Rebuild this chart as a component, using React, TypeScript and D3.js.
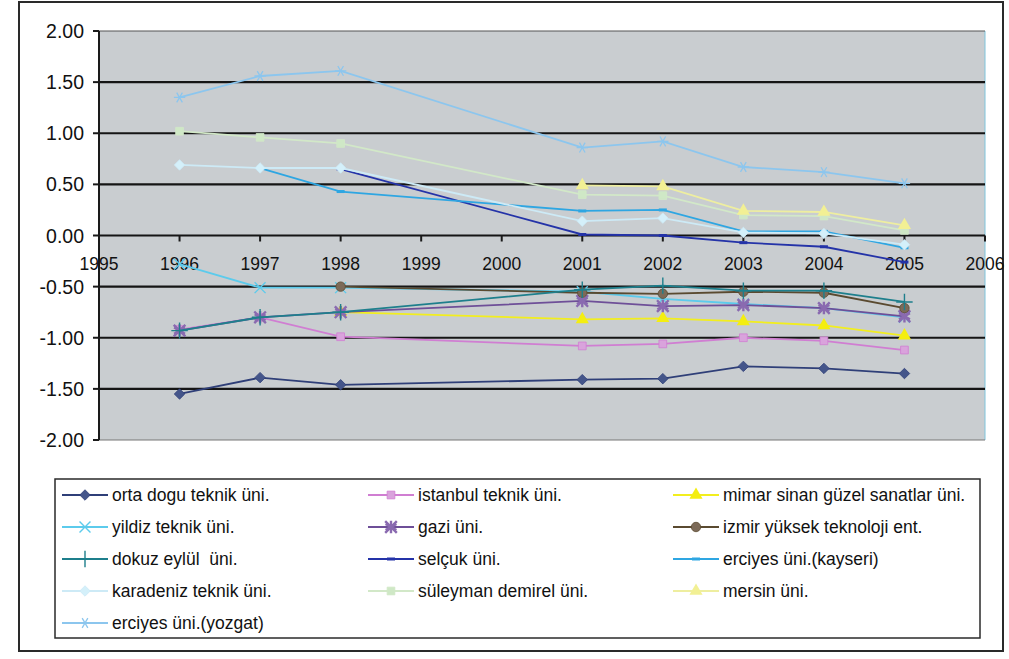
import { useRef, useEffect } from 'react';
import * as d3 from 'd3';

const years = [1996, 1997, 1998, 1999, 2000, 2001, 2002, 2003, 2004, 2005];
const xTicks = [1995, 1996, 1997, 1998, 1999, 2000, 2001, 2002, 2003, 2004, 2005, 2006];
const yTicks = [2, 1.5, 1, 0.5, 0, -0.5, -1, -1.5, -2];

const seriesNames = [
  'orta dogu teknik üni.',
  'istanbul teknik üni.',
  'mimar sinan güzel sanatlar üni.',
  'yildiz teknik üni.',
  'gazi üni.',
  'izmir yüksek teknoloji ent.',
  'dokuz eylül  üni.',
  'selçuk üni.',
  'erciyes üni.(kayseri)',
  'karadeniz teknik üni.',
  'süleyman demirel üni.',
  'mersin üni.',
  'erciyes üni.(yozgat)',
];

const ortaDogu = [-1.55, -1.39, -1.46, null, null, -1.41, -1.4, -1.28, -1.3, -1.35];
const istanbul = [-0.92, -0.8, -0.99, null, null, -1.08, -1.06, -1.0, -1.03, -1.12];
const mimarSinan = [null, null, -0.75, null, null, -0.82, -0.81, -0.84, -0.88, -0.98];
const yildiz = [-0.28, -0.51, -0.51, null, null, -0.55, -0.62, -0.67, -0.71, -0.8];
const gazi = [-0.93, -0.8, -0.75, null, null, -0.64, -0.69, -0.68, -0.71, -0.79];
const izmir = [null, null, -0.5, null, null, -0.56, -0.57, -0.55, -0.56, -0.71];
const dokuzEylul = [-0.93, -0.8, -0.75, null, null, -0.53, -0.49, -0.54, -0.54, -0.65];
const selcuk = [null, null, 0.65, null, null, 0.01, 0.0, -0.07, -0.11, -0.26];
const erciyesKayseri = [null, 0.66, 0.43, null, null, 0.24, 0.25, 0.04, 0.04, -0.12];
const karadeniz = [0.69, 0.66, 0.66, null, null, 0.14, 0.17, 0.03, 0.02, -0.09];
const suleyman = [1.02, 0.96, 0.9, null, null, 0.4, 0.39, 0.2, 0.19, 0.05];
const mersin = [null, null, null, null, null, 0.49, 0.48, 0.24, 0.23, 0.1];
const erciyesYozgat = [1.35, 1.56, 1.61, null, null, 0.86, 0.92, 0.67, 0.62, 0.51];

const seriesValues = [
  ortaDogu, istanbul, mimarSinan, yildiz, gazi, izmir, dokuzEylul,
  selcuk, erciyesKayseri, karadeniz, suleyman, mersin, erciyesYozgat,
];

// line colour, marker fill, marker kind
const styles = [
  { line: '#2f3f78', fill: '#44558a', marker: 'diamond' },
  { line: '#d07ed2', fill: '#d9a3dc', marker: 'square' },
  { line: '#f2ee1e', fill: '#f4ee10', marker: 'triangle' },
  { line: '#5ccbec', fill: '#5ccbec', marker: 'x' },
  { line: '#6e4f98', fill: '#8a6ab0', marker: 'star' },
  { line: '#5a4a30', fill: '#7c6a58', marker: 'circle' },
  { line: '#1e7f8c', fill: '#1e7f8c', marker: 'plus' },
  { line: '#2433a8', fill: '#2433a8', marker: 'dash' },
  { line: '#2ea6e2', fill: '#2ea6e2', marker: 'dash' },
  { line: '#cdeaf6', fill: '#d4f0fa', marker: 'diamond' },
  { line: '#d2e8c8', fill: '#cfe8c6', marker: 'square' },
  { line: '#eeeea0', fill: '#f2f094', marker: 'triangle' },
  { line: '#8cc6ee', fill: '#8cc6ee', marker: 'xstar' },
];

function drawMarker(g: any, kind: string, x: number, y: number, line: string, fill: string) {
  const sym = (type: any, size: number) => d3.symbol().type(type).size(size)();
  if (kind === 'diamond') {
    g.append('path').attr('d', sym(d3.symbolDiamond2, 70)).attr('transform', `translate(${x},${y})`)
      .attr('fill', fill).attr('stroke', line).attr('stroke-width', 0.8);
  } else if (kind === 'square') {
    g.append('path').attr('d', sym(d3.symbolSquare, 60)).attr('transform', `translate(${x},${y})`)
      .attr('fill', fill).attr('stroke', line).attr('stroke-width', 0.8);
  } else if (kind === 'triangle') {
    g.append('path').attr('d', sym(d3.symbolTriangle, 75)).attr('transform', `translate(${x},${y})`)
      .attr('fill', fill).attr('stroke', 'none');
  } else if (kind === 'circle') {
    g.append('path').attr('d', sym(d3.symbolCircle, 70)).attr('transform', `translate(${x},${y})`)
      .attr('fill', fill).attr('stroke', line).attr('stroke-width', 0.8);
  } else if (kind === 'x') {
    g.append('path').attr('d', sym(d3.symbolTimes, 80)).attr('transform', `translate(${x},${y})`)
      .attr('fill', 'none').attr('stroke', line).attr('stroke-width', 1.4);
  } else if (kind === 'xstar') {
    g.append('path').attr('d', sym(d3.symbolAsterisk, 90)).attr('transform', `translate(${x},${y}) rotate(30)`)
      .attr('fill', 'none').attr('stroke', line).attr('stroke-width', 1.3);
  } else if (kind === 'star') {
    g.append('path').attr('d', sym(d3.symbolAsterisk, 110)).attr('transform', `translate(${x},${y})`)
      .attr('fill', 'none').attr('stroke', fill).attr('stroke-width', 2.4);
    g.append('path').attr('d', sym(d3.symbolTimes, 90)).attr('transform', `translate(${x},${y})`)
      .attr('fill', 'none').attr('stroke', fill).attr('stroke-width', 2.4);
  } else if (kind === 'plus') {
    g.append('path').attr('d', sym(d3.symbolPlus, 90)).attr('transform', `translate(${x},${y})`)
      .attr('fill', 'none').attr('stroke', line).attr('stroke-width', 1.4);
  } else if (kind === 'dash') {
    g.append('line').attr('x1', x - 4).attr('x2', x + 4).attr('y1', y).attr('y2', y)
      .attr('stroke', fill).attr('stroke-width', 3);
  }
}

export default function App() {
  const svgRef = useRef<SVGSVGElement>(null);
  const width = 1009;
  const height = 659;

  useEffect(() => {
    const svg = d3.select(svgRef.current);
    svg.selectAll('*').remove();

    const font = '"Liberation Sans", Arial, sans-serif';

    // outer chart frame
    svg.append('rect').attr('x', 0).attr('y', 0).attr('width', width).attr('height', height).attr('fill', '#fff');
    svg.append('rect').attr('x', 19).attr('y', 2).attr('width', 984).attr('height', 649)
      .attr('fill', '#fff').attr('stroke', '#2a2a2a').attr('stroke-width', 2);

    const left = 99, right = 985, top = 31, bottom = 440;
    const x = d3.scaleLinear().domain([1995, 2006]).range([left, right]);
    const y = d3.scaleLinear().domain([-2, 2]).range([bottom, top]);

    // plot area
    svg.append('rect').attr('x', left).attr('y', top).attr('width', right - left).attr('height', bottom - top)
      .attr('fill', '#c9cdd0');
    svg.append('line').attr('x1', right).attr('x2', right).attr('y1', top).attr('y2', bottom)
      .attr('stroke', '#7fc4dc').attr('stroke-width', 1);
    svg.append('line').attr('x1', left).attr('x2', right).attr('y1', top).attr('y2', top)
      .attr('stroke', '#555').attr('stroke-width', 1);
    svg.append('line').attr('x1', left).attr('x2', right).attr('y1', bottom).attr('y2', bottom)
      .attr('stroke', '#777').attr('stroke-width', 1);

    // gridlines
    yTicks.filter(t => t !== 2 && t !== -2).forEach(t => {
      svg.append('line').attr('x1', left).attr('x2', right).attr('y1', y(t)).attr('y2', y(t))
        .attr('stroke', '#151515').attr('stroke-width', 2.2);
    });

    // y axis
    svg.append('line').attr('x1', left).attr('x2', left).attr('y1', top).attr('y2', bottom)
      .attr('stroke', '#1a1a1a').attr('stroke-width', 2);
    yTicks.forEach(t => {
      svg.append('line').attr('x1', left - 6).attr('x2', left).attr('y1', y(t)).attr('y2', y(t))
        .attr('stroke', '#1a1a1a').attr('stroke-width', 2);
      svg.append('text').attr('x', 84).attr('y', y(t) + 7).attr('text-anchor', 'end')
        .attr('font-family', font).attr('font-size', 19.5).attr('fill', '#111')
        .text(t.toFixed(2));
    });

    // x axis at zero
    xTicks.forEach(t => {
      svg.append('line').attr('x1', x(t)).attr('x2', x(t)).attr('y1', y(0)).attr('y2', y(0) + 6)
        .attr('stroke', '#1a1a1a').attr('stroke-width', 2);
      svg.append('text').attr('x', x(t)).attr('y', y(0) + 34).attr('text-anchor', 'middle')
        .attr('font-family', font).attr('font-size', 17.5).attr('fill', '#111')
        .text(String(t));
    });

    const lineGen = d3.line<{ yr: number; v: number }>().x(d => x(d.yr)).y(d => y(d.v));

    seriesValues.forEach((vals, i) => {
      const pts = years.map((yr, j) => ({ yr, v: vals[j] as number }))
        .filter(d => d.v !== null && d.v !== undefined);
      const st = styles[i];
      const g = svg.append('g');
      g.append('path').datum(pts).attr('d', lineGen).attr('fill', 'none')
        .attr('stroke', st.line).attr('stroke-width', 1.8);
      pts.forEach(p => drawMarker(g, st.marker, x(p.yr), y(p.v), st.line, st.fill));
    });

    // legend
    svg.append('rect').attr('x', 55).attr('y', 479).attr('width', 925).attr('height', 159)
      .attr('fill', '#fff').attr('stroke', '#2a2a2a').attr('stroke-width', 1.5);
    const colX = [62, 368, 673];
    const rowY = [495, 527, 559, 591, 623];
    seriesNames.forEach((name, i) => {
      const col = i % 3;
      const row = Math.floor(i / 3);
      const lx = colX[col];
      const ly = rowY[row];
      const st = styles[i];
      const g = svg.append('g');
      g.append('line').attr('x1', lx).attr('x2', lx + 46).attr('y1', ly).attr('y2', ly)
        .attr('stroke', st.line).attr('stroke-width', 1.8);
      drawMarker(g, st.marker, lx + 23, ly, st.line, st.fill);
      g.append('text').attr('x', lx + 50).attr('y', ly + 6)
        .attr('font-family', font).attr('font-size', 17.5).attr('fill', '#111')
        .style('white-space', 'pre')
        .text(name);
    });
  }, []);

  return (
    <div style={{ position: 'absolute', left: 0, top: 0 }}>
      <svg ref={svgRef} width={width} height={height} style={{ display: 'block' }} />
    </div>
  );
}
